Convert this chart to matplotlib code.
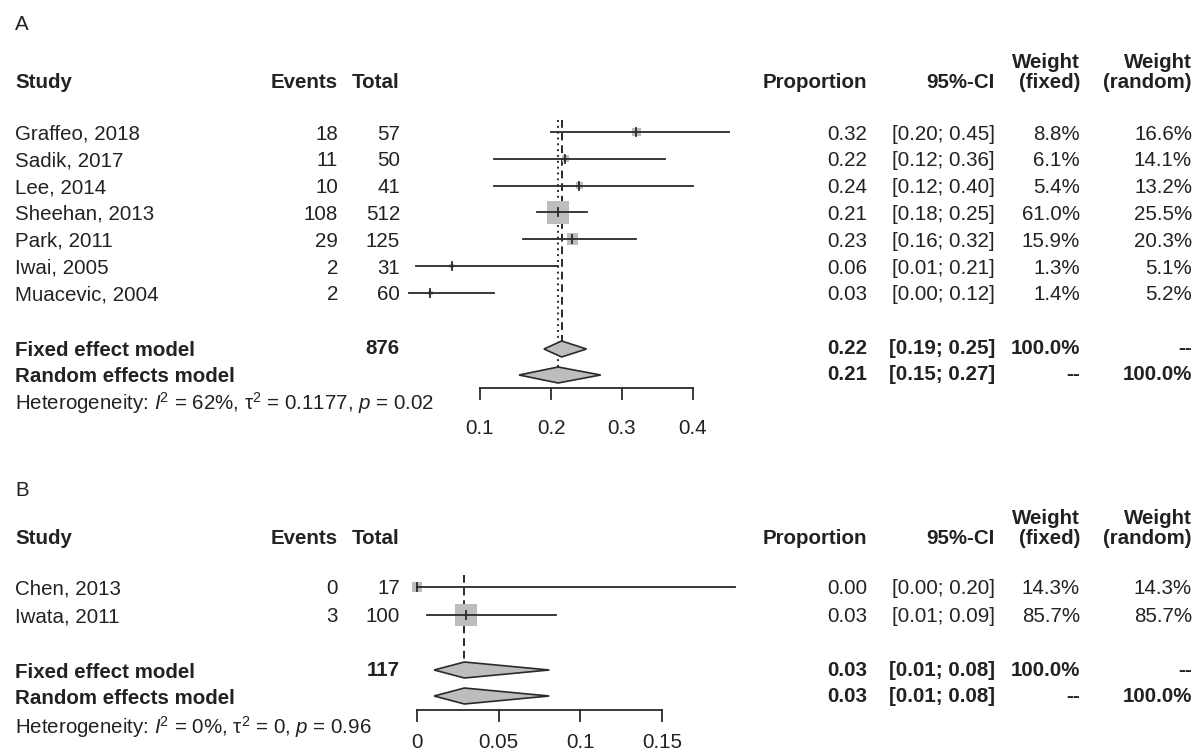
import matplotlib.pyplot as plt
from matplotlib.patches import Polygon, Rectangle

plt.rcParams['font.family'] = ['Liberation Sans', 'DejaVu Sans']
plt.rcParams['mathtext.fontset'] = 'custom'
plt.rcParams['mathtext.rm'] = 'Liberation Sans'
plt.rcParams['mathtext.it'] = 'Liberation Sans:italic'

# Panel A data
a_studies = ["Graffeo, 2018", "Sadik, 2017", "Lee, 2014", "Sheehan, 2013",
             "Park, 2011", "Iwai, 2005", "Muacevic, 2004"]
a_events = [18, 11, 10, 108, 29, 2, 2]
a_total = [57, 50, 41, 512, 125, 31, 60]
a_prop = [0.32, 0.22, 0.24, 0.21, 0.23, 0.06, 0.03]
a_lo = [0.20, 0.12, 0.12, 0.18, 0.16, 0.01, 0.00]
a_hi = [0.45, 0.36, 0.40, 0.25, 0.32, 0.21, 0.12]
a_wfix = [8.8, 6.1, 5.4, 61.0, 15.9, 1.3, 1.4]
a_wran = [16.6, 14.1, 13.2, 25.5, 20.3, 5.1, 5.2]
a_fixed = (0.215, 0.19, 0.25)
a_random = (0.21, 0.155, 0.27)
a_fixed_lbl = ("0.22", "[0.19; 0.25]")
a_random_lbl = ("0.21", "[0.15; 0.27]")
a_n = 876
a_ticks = [0.1, 0.2, 0.3, 0.4]
a_tick_labels = ["0.1", "0.2", "0.3", "0.4"]
a_het = r"Heterogeneity: $I$$^2$ = 62%, τ$^2$ = 0.1177, $p$ = 0.02"

# Panel B data
b_studies = ["Chen, 2013", "Iwata, 2011"]
b_events = [0, 3]
b_total = [17, 100]
b_prop = [0.00, 0.03]
b_lo = [0.00, 0.006]
b_hi = [0.195, 0.085]
b_prop_lbl = ["0.00", "0.03"]
b_ci_lbl = ["[0.00; 0.20]", "[0.01; 0.09]"]
b_wfix = [14.3, 85.7]
b_wran = [14.3, 85.7]
b_fixed = (0.029, 0.0105, 0.081)
b_random = (0.029, 0.0105, 0.081)
b_fixed_lbl = ("0.03", "[0.01; 0.08]")
b_random_lbl = ("0.03", "[0.01; 0.08]")
b_n = 117
b_ticks = [0, 0.05, 0.1, 0.15]
b_tick_labels = ["0", "0.05", "0.1", "0.15"]
b_het = r"Heterogeneity: $I$$^2$ = 0%, τ$^2$ = 0, $p$ = 0.96"

W, H = 1197, 755
fig = plt.figure(figsize=(W / 100, H / 100), dpi=100)
tx = fig.add_axes([0, 0, 1, 1])
tx.set_xlim(0, W)
tx.set_ylim(H, 0)
tx.axis('off')
FS = 14.8
GREY = '#bdbdbd'
LC = '#2a2a2a'


def panel(letter, top, hy, y0, step, yf, yr, ya, ylab, yhet,
          studies, events, total, prop, lo, hi, prop_lbl, ci_lbl,
          wfix, wran, fixed, random, fixed_lbl, random_lbl, n, ticks, tick_labels,
          het, x0px, v0, pxu, sqscale, dotted_random):
    kw = dict(fontsize=FS, va='center', color='#222222')
    tx.text(15, top, letter, **kw)
    tx.text(15, hy, "Study", fontweight='bold', **kw)
    tx.text(338, hy, "Events", ha='right', fontweight='bold', **kw)
    tx.text(400, hy, "Total", ha='right', fontweight='bold', **kw)
    tx.text(867, hy, "Proportion", ha='right', fontweight='bold', **kw)
    tx.text(995, hy, "95%-CI", ha='right', fontweight='bold', **kw)
    tx.text(1080, hy - 19, "Weight", ha='right', fontweight='bold', **kw)
    tx.text(1080, hy, "(fixed)", ha='right', fontweight='bold', **kw)
    tx.text(1192, hy - 19, "Weight", ha='right', fontweight='bold', **kw)
    tx.text(1192, hy, "(random)", ha='right', fontweight='bold', **kw)

    ax = fig.add_axes([0, 0, 1, 1])
    ax.set_xlim(v0 - x0px / pxu, v0 + (W - x0px) / pxu)
    ax.set_ylim(H, 0)
    ax.axis('off')

    ys = [y0 + i * step for i in range(len(studies))]
    for i, y in enumerate(ys):
        tx.text(15, y + 2, studies[i], **kw)
        tx.text(338, y + 2, str(events[i]), ha='right', **kw)
        tx.text(400, y + 2, str(total[i]), ha='right', **kw)
        tx.text(867, y + 2, prop_lbl[i], ha='right', **kw)
        tx.text(995, y + 2, ci_lbl[i], ha='right', **kw)
        tx.text(1080, y + 2, f"{wfix[i]:.1f}%", ha='right', **kw)
        tx.text(1192, y + 2, f"{wran[i]:.1f}%", ha='right', **kw)
        s = max(4.5, sqscale * wfix[i] ** 0.5)
        ax.add_patch(Rectangle((prop[i] - s / 2 / pxu, y - s / 2), s / pxu, s,
                               facecolor=GREY, edgecolor='none', zorder=2))
        ax.plot([lo[i], hi[i]], [y, y], color=LC, lw=1.3, zorder=3)
        ax.plot([prop[i], prop[i]], [y - 4, y + 4], color=LC, lw=1.3, zorder=3)

    bold = dict(kw, fontweight='bold')
    tx.text(15, yf + 2, "Fixed effect model", **bold)
    tx.text(15, yr + 2, "Random effects model", **bold)
    tx.text(400, yf, str(n), ha='right', **bold)
    for y, lbl, wf, wr in [(yf, fixed_lbl, "100.0%", "--"), (yr, random_lbl, "--", "100.0%")]:
        tx.text(867, y, lbl[0], ha='right', **bold)
        tx.text(995, y, lbl[1], ha='right', **bold)
        tx.text(1080, y, wf, ha='right', **bold)
        tx.text(1192, y, wr, ha='right', **bold)

    for (c, l, h), y in [(fixed, yf), (random, yr)]:
        ax.add_patch(Polygon([(l, y), (c, y - 8), (h, y), (c, y + 8)],
                             facecolor=GREY, edgecolor=LC, lw=1.2, zorder=3))

    ax.plot([fixed[0], fixed[0]], [ys[0] - 12, yf - 8], color=LC, lw=1.4,
            ls=(0, (4, 2.5)), zorder=1)
    if dotted_random:
        ax.plot([random[0], random[0]], [ys[0] - 12, yr - 8], color=LC, lw=1.4,
                ls=(0, (1, 2)), zorder=1)

    ax.plot([ticks[0], ticks[-1]], [ya, ya], color=LC, lw=1.3)
    for t, tl in zip(ticks, tick_labels):
        ax.plot([t, t], [ya, ya + 11], color=LC, lw=1.3)
        ax.text(t, ylab, tl, ha='center', va='center', fontsize=FS, color='#222222')
    tx.text(15, yhet, het, **kw)


panel("A", 25, 82, 132, 26.8, 349, 375, 388, 429, 403,
      a_studies, a_events, a_total, a_prop, a_lo, a_hi,
      [f"{p:.2f}" for p in a_prop], [f"[{l:.2f}; {h:.2f}]" for l, h in zip(a_lo, a_hi)],
      a_wfix, a_wran, a_fixed, a_random, a_fixed_lbl, a_random_lbl, a_n,
      a_ticks, a_tick_labels, a_het, 480, 0.1, 710, 2.9, True)
panel("B", 490, 538, 587, 28, 670, 696, 710, 743, 727,
      b_studies, b_events, b_total, b_prop, b_lo, b_hi,
      b_prop_lbl, b_ci_lbl, b_wfix, b_wran, b_fixed, b_random, b_fixed_lbl,
      b_random_lbl, b_n, b_ticks, b_tick_labels, b_het, 417, 0.0, 1633, 2.4, False)

fig.savefig("out.png", dpi=100)
